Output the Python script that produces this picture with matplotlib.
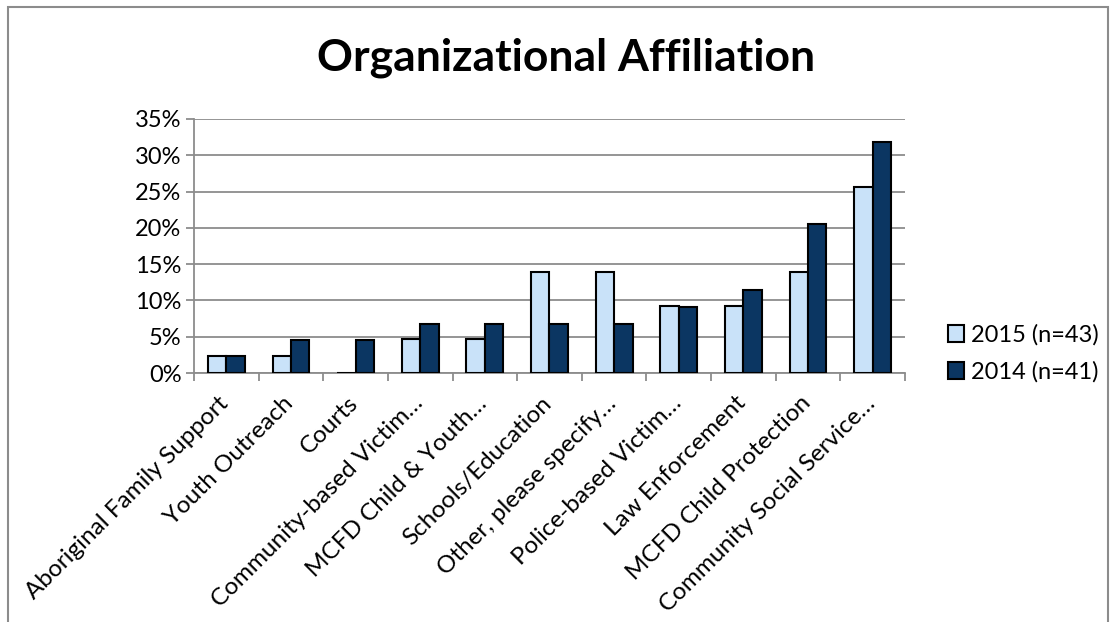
import numpy as np
import matplotlib.pyplot as plt
from matplotlib.ticker import PercentFormatter, FixedLocator
from matplotlib.patches import Rectangle

plt.rcParams['font.family'] = ['Lato', 'DejaVu Sans']

categories = ["Aboriginal Family Support", "Youth Outreach", "Courts",
              "Community-based Victim\u2026", "MCFD Child & Youth\u2026",
              "Schools/Education", "Other, please specify\u2026",
              "Police-based Victim\u2026", "Law Enforcement",
              "MCFD Child Protection", "Community Social Service\u2026"]
vals_2015 = [2.3, 2.3, 0.0, 4.65, 4.65, 13.95, 13.95, 9.3, 9.3, 13.95, 25.6]
vals_2014 = [2.3, 4.5, 4.5, 6.8, 6.8, 6.8, 6.8, 9.1, 11.4, 20.5, 31.8]

light = "#C9E2F9"
dark = "#0B3662"
grid_c = "#8C8C8C"

fig = plt.figure(figsize=(11.18, 6.22), dpi=100)
ax = fig.add_axes([0.1735, 0.4003, 0.636, 0.4084])

x = np.arange(len(categories))
w = 0.285
ax.bar(x - w/2, vals_2015, w, color=light, edgecolor="black", linewidth=1.5,
       label="2015 (n=43)", zorder=3)
ax.bar(x + w/2, vals_2014, w, color=dark, edgecolor="black", linewidth=1.5,
       label="2014 (n=41)", zorder=3)

ax.set_ylim(0, 35)
ax.set_xlim(-0.5, len(categories) - 0.5)
ax.set_yticks(np.arange(0, 36, 5))
ax.yaxis.set_major_formatter(PercentFormatter(decimals=0))
ax.grid(axis="y", color=grid_c, linewidth=1.3, zorder=0)

# label anchors a bit left of centre so the rotated text ends under the group
ax.set_xticks(x - 0.13)
ax.set_xticklabels(categories, rotation=45, ha="right", rotation_mode="anchor",
                   fontsize=17.5)
ax.xaxis.set_minor_locator(FixedLocator(np.arange(-0.5, len(categories), 1)))
ax.tick_params(axis="x", which="major", length=0, pad=14)
ax.tick_params(axis="x", which="minor", length=6, width=1.3, color=grid_c)
ax.tick_params(axis="y", length=6, width=1.3, color=grid_c, labelsize=17, pad=3)

for s in ["top", "right"]:
    ax.spines[s].set_visible(False)
for s in ["left", "bottom"]:
    ax.spines[s].set_color(grid_c)
    ax.spines[s].set_linewidth(1.3)

fig.text(0.506, 1 - 58/622, "Organizational Affiliation", fontsize=32,
         fontweight="bold", ha="center", va="center")

ax.legend(loc="center left", bbox_to_anchor=(1.03, 0.077), frameon=False,
          fontsize=17, handlelength=0.7, handleheight=0.7,
          handletextpad=0.3, labelspacing=0.65)

# outer chart border (bottom edge cut off)
fig.patches.append(Rectangle((8/1118, -0.1), 1100/1118, 1.1 - 7/622,
                             transform=fig.transFigure, fill=False,
                             edgecolor="#8C8C8C", linewidth=1.5))

fig.savefig("out.png", dpi=100)
